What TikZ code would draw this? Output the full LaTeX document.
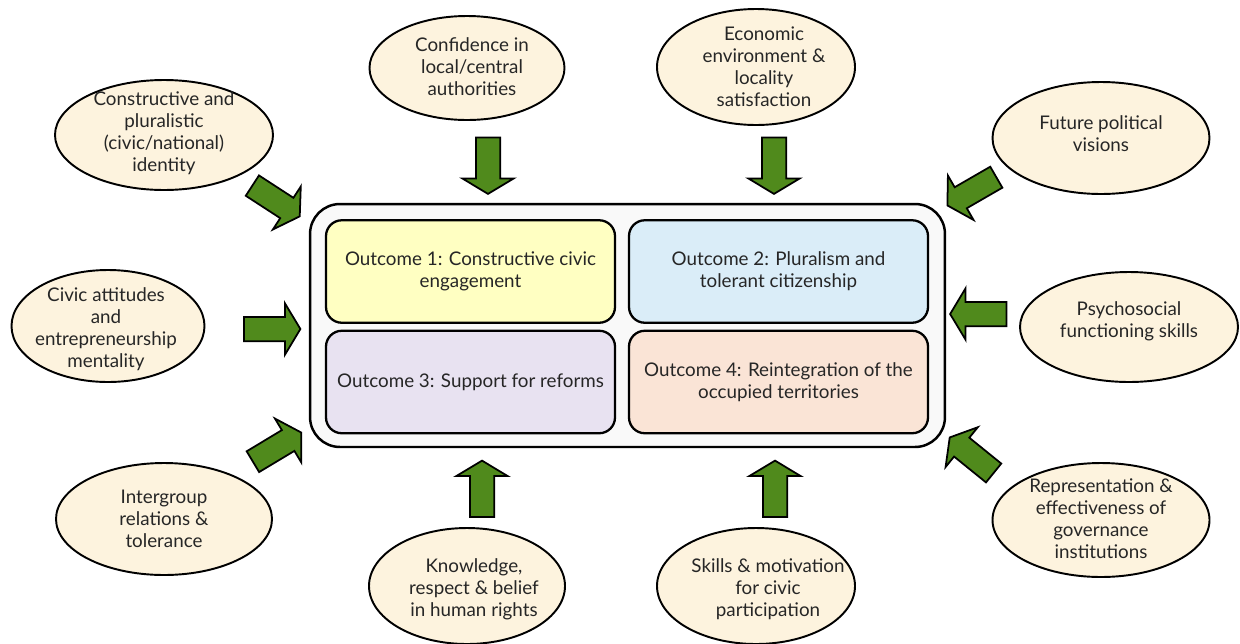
\documentclass[tikz,border=0pt]{standalone}
\usepackage{fontspec}
\setmainfont{Lato}
\usetikzlibrary{shapes.geometric,shapes.arrows}

\definecolor{arrowgreen}{RGB}{80,138,28}
\definecolor{creamfill}{RGB}{253,243,222}
\definecolor{panelfill}{RGB}{249,249,249}
\definecolor{oneyellow}{RGB}{255,255,194}
\definecolor{twoblue}{RGB}{218,237,248}
\definecolor{threelilac}{RGB}{232,226,241}
\definecolor{fourpeach}{RGB}{250,228,214}
\definecolor{inktext}{RGB}{38,38,38}

\begin{document}
\begin{tikzpicture}[x=0.02cm,y=-0.02cm,
  every node/.style={text=inktext, font=\fontsize{10.7}{12.5}\selectfont},
  factor/.style 2 args={ellipse, draw=black, line width=1.1pt, fill=creamfill,
    inner sep=0pt, minimum width=#1*0.02cm, minimum height=#2*0.02cm},
  factortext/.style={align=center, inner sep=0pt},
  panel/.style={draw=black, line width=1.4pt, fill=panelfill, rounded corners=17pt,
    minimum width=12.7cm, minimum height=4.86cm, inner sep=0pt},
  outcome/.style 2 args={draw=black, line width=1.3pt, rounded corners=9pt,
    minimum width=#1*0.02cm, minimum height=2.05cm, align=center, inner sep=0pt},
  push/.style={single arrow, draw=black, line width=1pt, fill=arrowgreen,
    minimum height=1.13cm, inner xsep=0pt, inner ysep=0.225cm,
    single arrow head extend=0.27cm, single arrow tip angle=118, rotate=#1}
]
\useasboundingbox (0,0) rectangle (1240,643);

% central panel with the four outcomes
\node[panel] (core) at (627.5,325.5) {};
\node[outcome={289}{103}, fill=oneyellow] (o1) at (470.5,271.5)
  {Outcome 1: Constructive civic\\engagement};
\node[outcome={299}{103}, fill=twoblue] (o2) at (778.5,271.5)
  {Outcome 2: Pluralism and\\tolerant citizenship};
\node[outcome={289}{102}, fill=threelilac] (o3) at (470.5,382)
  {Outcome 3: Support for reforms};
\node[outcome={299}{102}, fill=fourpeach] (o4) at (778.5,382)
  {Outcome 4: Reintegration of the\\occupied territories};

% contributing factors
\node[factor={218}{110}] (f1) at (164,135) {};
\node[factortext] (t1) at (164,133) {Constructive and\\pluralistic\\(civic/national)\\identity};
\node[factor={195}{104}] (f2) at (467,68) {};
\node[factortext] (t2) at (472,67) {Confidence in\\local/central\\authorities};
\node[factor={198}{116}] (f3) at (756,67) {};
\node[factortext] (t3) at (764,67) {Economic\\environment \&\\locality\\satisfaction};
\node[factor={217}{112}] (f4) at (1101,138) {};
\node[factortext] (t4) at (1101,134) {Future political\\visions};
\node[factor={193}{112}] (f5) at (108,326) {};
\node[factortext] (t5) at (106,329) {Civic attitudes\\and\\entrepreneurship\\mentality};
\node[factor={218}{110}] (f6) at (1129,327) {};
\node[factortext] (t6) at (1129,321) {Psychosocial\\functioning skills};
\node[factor={216}{112}] (f7) at (164,519) {};
\node[factortext] (t7) at (164,519) {Intergroup\\relations \&\\tolerance};
\node[factor={196}{116}] (f8) at (467,586) {};
\node[factortext] (t8) at (474,589) {Knowledge,\\respect \& belief\\in human rights};
\node[factor={198}{116}] (f9) at (756,586) {};
\node[factortext] (t9) at (768,589) {Skills \& motivation\\for civic\\participation};
\node[factor={217}{114}] (f10) at (1101,520) {};
\node[factortext] (t10) at (1101,519) {Representation \&\\effectiveness of\\governance\\institutions};

% block arrows pointing at the panel
\node[push=-33] (a1) at (273,199) {};
\node[push=0] (a5) at (268.5,329) {};
\node[push=31] (a7) at (274,449) {};
\node[push=-90] (a2) at (488,162) {};
\node[push=-90] (a3) at (774,162) {};
\node[push=210] (a4) at (975,189.5) {};
\node[push=180] (a6) at (982,314) {};
\node[push=141] (a10) at (974.5,457.5) {};
\node[push=90] (a8) at (482,492.5) {};
\node[push=90] (a9) at (775,492.5) {};
\end{tikzpicture}
\end{document}
